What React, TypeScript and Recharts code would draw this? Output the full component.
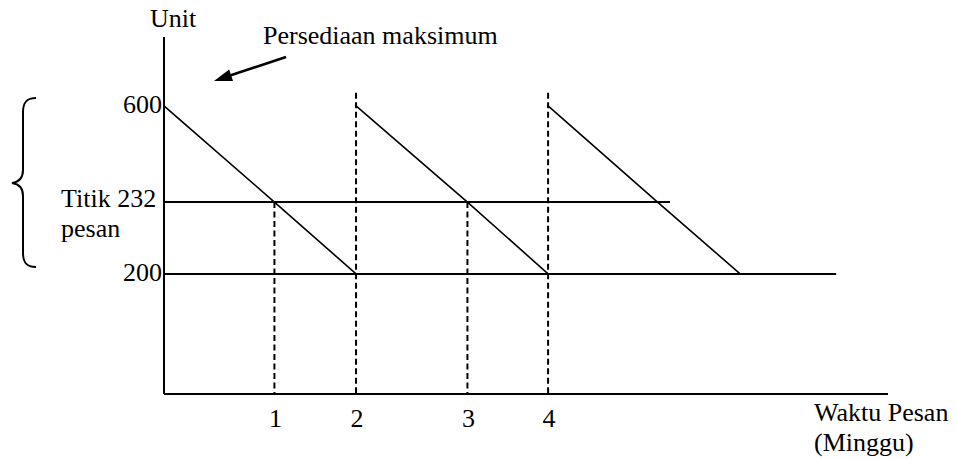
import React from 'react';
// recharts에서 선 차트 관련 컴포넌트 불러오기
import { LineChart, Line, XAxis, YAxis } from 'recharts';

// 재고 수준 (unit)
const MAX_STOCK = 600;
const REORDER_POINT = 232;
const SAFETY_STOCK = 200;

// 주문 사이클 (minggu)
const cycleStartWeeks = [0, 2, 4];
const reorderWeeks = [1, 3, 5];
const cycleEndWeeks = [2, 4, 6];

// 점선으로 표시되는 시점
const markedReorderWeeks = [1, 3];
const arrivalWeeks = [2, 4];
const ARRIVAL_MARK_TOP = 631;

// 수평선이 끝나는 주
const REORDER_LINE_END = 5.15;
const SAFETY_LINE_END = 7;

// 축 눈금
const weekTicks = [1, 2, 3, 4];
const stockTicks = [600, 232, 200];

// 그림은 비례가 맞지 않음: 각 값이 실제로 그려지는 위치(선형 단위)
const weekKnots = [0, 1, 2, 3, 4, 5, 6, 8];
const weekDrawnAt = [0, 1.15, 2, 3.16, 4, 5.14, 6, 8];
const stockKnots = [0, 200, 232, 600, 800];
const stockDrawnAt = [-86, 200, 371, 600, 800];

const FONT = "'Liberation Serif', 'Times New Roman', serif";
const FONT_SIZE = 26;

// 구간별 선형 보간
const warp = (knots: number[], drawn: number[], v: number) => {
  let i = 0;
  while (i < knots.length - 2 && v > knots[i + 1]) i++;
  return drawn[i] + ((v - knots[i]) * (drawn[i + 1] - drawn[i])) / (knots[i + 1] - knots[i]);
};

// d3 스타일의 사용자 정의 스케일
const schematicScale = (knots: number[], drawn: number[]): any => {
  let dom = [0, 1];
  let rng = [0, 1];
  const span = () => [warp(knots, drawn, dom[0]), warp(knots, drawn, dom[dom.length - 1])];
  const scale: any = (v: any) => {
    const [d0, d1] = span();
    return rng[0] + ((warp(knots, drawn, Number(v)) - d0) / (d1 - d0)) * (rng[1] - rng[0]);
  };
  scale.domain = (d?: any[]) => {
    if (!d) return dom;
    dom = d.map(Number);
    return scale;
  };
  scale.range = (r?: number[]) => {
    if (!r) return rng;
    rng = [...r];
    return scale;
  };
  scale.copy = () => schematicScale(knots, drawn).domain(dom).range(rng);
  scale.ticks = () => knots.filter((k) => k >= dom[0] && k <= dom[dom.length - 1]);
  scale.invert = (px: number) => {
    const [d0, d1] = span();
    const d = d0 + ((px - rng[0]) / (rng[1] - rng[0])) * (d1 - d0);
    return warp(drawn, knots, d);
  };
  return scale;
};

const weekScale = schematicScale(weekKnots, weekDrawnAt);
const stockScale = schematicScale(stockKnots, stockDrawnAt);

// 톱니 모양 재고 선 (사이클 사이는 null로 끊음)
const stockLine = cycleStartWeeks.flatMap((start, i) => [
  { week: start, stock: MAX_STOCK },
  { week: reorderWeeks[i], stock: REORDER_POINT },
  { week: cycleEndWeeks[i], stock: SAFETY_STOCK },
  { week: cycleEndWeeks[i], stock: null },
]);

const reorderLine = [
  { week: 0, stock: REORDER_POINT },
  { week: REORDER_LINE_END, stock: REORDER_POINT },
];

const safetyLine = [
  { week: 0, stock: SAFETY_STOCK },
  { week: SAFETY_LINE_END, stock: SAFETY_STOCK },
];

// 점선 (주문 시점 / 입고 시점)
const dashedMarks = [
  ...markedReorderWeeks.map((w) => [{ week: w, stock: REORDER_POINT }, { week: w, stock: 0 }]),
  ...arrivalWeeks.map((w) => [{ week: w, stock: ARRIVAL_MARK_TOP }, { week: w, stock: 0 }]),
].flatMap((seg) => [...seg, { week: seg[0].week, stock: null }]);

const AXIS_STYLE = { stroke: '#000', strokeWidth: 2 };

// X축 눈금 라벨
const WeekTick = ({ x, y, payload }: any) => (
  <text x={x + 1} y={y + 33} textAnchor="middle" fontFamily={FONT} fontSize={FONT_SIZE} fill="#000">
    {payload.value}
  </text>
);

// Y축 눈금 라벨 (재주문점은 두 줄)
const StockTick = ({ x, y, payload }: any) => {
  if (payload.value === REORDER_POINT) {
    return (
      <text x={x - 103} y={y + 5} fontFamily={FONT} fontSize={FONT_SIZE} fill="#000">
        <tspan>Titik {payload.value}</tspan>
        <tspan x={x - 103} dy={30}>pesan</tspan>
      </text>
    );
  }
  return (
    <text x={x - 2} y={y + 7} textAnchor="end" fontFamily={FONT} fontSize={FONT_SIZE} fill="#000">
      {payload.value}
    </text>
  );
};

const App: React.FC = () => {
  return (
    <div style={{ position: 'absolute', left: 0, top: 0, width: 956, height: 459, background: '#fff' }}>
      <LineChart width={956} height={459} margin={{ top: 37, right: 68, bottom: 0, left: 0 }}>
        <XAxis
          type="number"
          dataKey="week"
          domain={[0, 7.54]}
          allowDataOverflow
          scale={weekScale}
          ticks={weekTicks}
          interval={0}
          tickLine={false}
          tickSize={0}
          tickMargin={0}
          axisLine={AXIS_STYLE}
          tick={<WeekTick />}
          height={65}
        />
        <YAxis
          type="number"
          dataKey="stock"
          domain={[0, 764]}
          allowDataOverflow
          scale={stockScale}
          ticks={stockTicks}
          interval={0}
          tickLine={false}
          tickSize={0}
          tickMargin={0}
          axisLine={AXIS_STYLE}
          tick={<StockTick />}
          width={164}
        />
        <Line data={safetyLine} dataKey="stock" stroke="#000" strokeWidth={2} dot={false} activeDot={false} isAnimationActive={false} />
        <Line data={reorderLine} dataKey="stock" stroke="#000" strokeWidth={2} dot={false} activeDot={false} isAnimationActive={false} />
        <Line data={stockLine} dataKey="stock" stroke="#000" strokeWidth={1.6} dot={false} activeDot={false} isAnimationActive={false} />
        <Line
          data={dashedMarks}
          dataKey="stock"
          stroke="#000"
          strokeWidth={2}
          strokeDasharray="6 3.5"
          dot={false}
          activeDot={false}
          isAnimationActive={false}
        />
      </LineChart>

      {/* 주석: 축 제목, 화살표, 중괄호 */}
      <svg
        width={956}
        height={459}
        style={{ position: 'absolute', left: 0, top: 0, pointerEvents: 'none' }}
        fontFamily={FONT}
        fontSize={FONT_SIZE}
        fill="#000"
      >
        <text x={150} y={27}>Unit</text>
        <text x={263} y={44}>Persediaan maksimum</text>
        <line x1={286} y1={57} x2={230} y2={75.5} stroke="#000" strokeWidth={2.5} />
        <polygon points="214,81 233,81 229.2,69.6" fill="#000" />
        <path
          d="M36,98 C26,98 23,103 23,112 L23,170 C23,178 19,182 12,183 C19,184 23,188 23,196 L23,253 C23,262 26,267 36,267"
          fill="none"
          stroke="#000"
          strokeWidth={2}
        />
        <text x={814} y={421}>
          <tspan>Waktu Pesan</tspan>
          <tspan x={814} dy={30}>(Minggu)</tspan>
        </text>
      </svg>
    </div>
  );
};

export default App;
